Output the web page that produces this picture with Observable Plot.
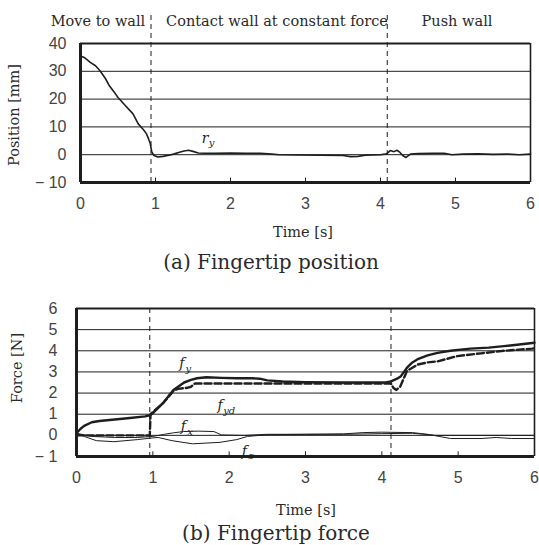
<!DOCTYPE html>
<html><head><meta charset="utf-8">
<script src="https://cdn.jsdelivr.net/npm/d3@7"></script>
<script src="https://cdn.jsdelivr.net/npm/@observablehq/plot@0.6"></script>
<style>
html,body{margin:0;padding:0;background:#fff;}
#wrap{position:relative;width:539px;height:545px;overflow:hidden;background:#fff;}
.t{position:absolute;font-family:"DejaVu Serif",serif;color:#2a2a2a;white-space:nowrap;line-height:1;transform:translate(-50%,-50%);}
.rot{transform:translate(-50%,-50%) rotate(-90deg);}
svg{position:absolute;left:0;}
</style></head><body><div id="wrap"></div>
<script>
// ---- data ----
const timeTicks = [0, 1, 2, 3, 4, 5, 6];
const posTicks = [-10, 0, 10, 20, 30, 40];
const forceTicks = [-1, 0, 1, 2, 3, 4, 5, 6];
const phaseNames = ["Move to wall", "Contact wall at constant force", "Push wall"];
const phaseEndsPos = [0.94, 4.09];
const phaseEndsForce = [0.96, 4.12];

// fingertip position r_y [mm]
const ryT = [0, 0.05, 0.13, 0.2, 0.26, 0.33, 0.38, 0.45, 0.5, 0.6, 0.7, 0.77, 0.84, 0.88, 0.91, 0.93, 0.95, 0.98, 1.03, 1.1, 1.18, 1.25, 1.32, 1.38, 1.44, 1.5, 1.57, 1.65, 1.8, 2.0, 2.2, 2.4, 2.55, 2.65, 2.9, 3.2, 3.5, 3.6, 3.7, 3.8, 4.0, 4.08, 4.13, 4.18, 4.22, 4.26, 4.3, 4.34, 4.4, 4.5, 4.7, 4.85, 4.95, 5.1, 5.3, 5.5, 5.7, 5.85, 6.0];
const ryV = [35.5, 35, 33.2, 32, 30.2, 27.5, 25, 22.5, 20.6, 17.6, 14.7, 11.1, 9, 7.5, 5.5, 4, 1, -0.3, -0.8, -0.6, -0.2, 0.3, 0.9, 1.3, 1.6, 1.2, 0.6, 0.5, 0.5, 0.6, 0.5, 0.5, 0.2, 0, -0.1, -0.2, -0.3, -0.7, -0.6, -0.2, 0, 0.3, 1.5, 1.1, 1.6, 0.8, -0.4, -1, 0.2, 0.4, 0.5, 0.5, 0, 0.2, 0.3, 0.1, 0.2, 0, 0.2];

// fingertip force [N]
const fyT = [0, 0.05, 0.1, 0.2, 0.3, 0.5, 0.7, 0.9, 0.96, 1.0, 1.14, 1.27, 1.41, 1.5, 1.58, 1.7, 1.9, 2.1, 2.3, 2.4, 2.5, 2.7, 3.0, 3.5, 3.8, 4.05, 4.12, 4.2, 4.25, 4.33, 4.4, 4.47, 4.6, 4.73, 4.9, 5.16, 5.4, 5.6, 5.8, 6.0];
const fyV = [0.1, 0.3, 0.45, 0.62, 0.68, 0.75, 0.82, 0.9, 0.95, 1.05, 1.55, 2.15, 2.5, 2.62, 2.7, 2.75, 2.72, 2.7, 2.7, 2.68, 2.6, 2.55, 2.52, 2.5, 2.5, 2.5, 2.55, 2.68, 2.8, 3.2, 3.45, 3.6, 3.78, 3.9, 4.0, 4.1, 4.15, 4.22, 4.3, 4.38];
const fydT = [0, 0.96, 0.97, 1.14, 1.27, 1.33, 1.45, 1.5, 1.55, 1.7, 2.0, 2.5, 3.0, 3.5, 4.0, 4.12, 4.15, 4.19, 4.24, 4.3, 4.33, 4.4, 4.47, 4.6, 4.73, 4.99, 5.3, 5.6, 5.97, 6.0];
const fydV = [0, 0, 1.0, 1.55, 2.1, 2.2, 2.25, 2.3, 2.45, 2.45, 2.45, 2.45, 2.45, 2.45, 2.45, 2.45, 2.25, 2.15, 2.3, 2.8, 3.05, 3.2, 3.35, 3.45, 3.5, 3.75, 3.88, 4.0, 4.1, 4.12];
const fxT = [0, 0.2, 0.5, 0.8, 1.0, 1.15, 1.27, 1.4, 1.6, 1.8, 1.9, 2.2, 2.5, 3.0, 3.5, 3.75, 4.0, 4.4, 4.6, 4.75, 4.9, 5.3, 5.5, 5.7, 6.0];
const fxV = [0.1, -0.05, -0.1, -0.1, -0.05, 0.05, 0.12, 0.18, 0.2, 0.18, 0.02, 0, 0.05, 0.05, 0.07, 0.13, 0.15, 0.13, 0.05, -0.05, -0.15, -0.15, -0.1, -0.15, -0.15];
const fzT = [0, 0.1, 0.26, 0.49, 0.8, 1.0, 1.07, 1.25, 1.52, 1.88, 2.1, 2.24, 2.5, 3.0, 3.5, 4.0, 4.4, 4.7, 5.0, 6.0];
const fzV = [0.1, -0.05, -0.25, -0.3, -0.2, -0.12, -0.1, -0.25, -0.4, -0.33, -0.2, -0.05, 0.03, 0.05, 0.05, 0.08, 0.1, 0, 0, 0];

// ---- helpers ----
const ink = "#1e1e1e";
const tickFont = '"Liberation Sans", Arial, sans-serif';
const serif = '"DejaVu Serif", serif';
const minusFmt = d => d < 0 ? "\u2212 " + Math.abs(d) : String(d);
const zip = (T, V) => T.map((t, i) => ({t, v: V[i]}));

function frame(xd, yd) {
  return [
    Plot.ruleY([yd[1]], {stroke: ink, strokeWidth: 2}),
    Plot.ruleX([xd[1]], {stroke: ink, strokeWidth: 1.6}),
    Plot.ruleY([yd[0]], {stroke: ink, strokeWidth: 3}),
    Plot.ruleX([xd[0]], {stroke: ink, strokeWidth: 3})
  ];
}
function label(t, v, main, sub) {
  const d = [{t, v}];
  return [
    Plot.text(d, {x: "t", y: "v", text: () => main, fontFamily: serif, fontStyle: "italic", fontSize: 14, fill: ink}),
    Plot.text(d, {x: "t", y: "v", text: () => sub, dx: 4 + sub.length * 2.6, dy: 5, fontFamily: serif, fontStyle: "italic", fontSize: 10, fill: ink})
  ];
}

const wrap = document.getElementById("wrap");
function addText(txt, cx, cy, size, rot) {
  const el = document.createElement("div");
  el.className = "t" + (rot ? " rot" : "");
  el.textContent = txt;
  el.style.left = cx + "px";
  el.style.top = cy + "px";
  el.style.fontSize = size + "px";
  wrap.appendChild(el);
}

// ---- top panel ----
const posDom = [posTicks[0], posTicks[posTicks.length - 1]];
const tDom = [timeTicks[0], timeTicks[timeTicks.length - 1]];
const headerReach = posDom[1] + 11;
const topPlot = Plot.plot({
  width: 539, height: 275, marginLeft: 80, marginRight: 9, marginTop: 43, marginBottom: 93,
  x: {domain: tDom}, y: {domain: posDom},
  style: {fontFamily: tickFont, fontSize: "16px", color: "#444", background: "white", overflow: "visible"},
  marks: [
    Plot.ruleY(posTicks.slice(1, -1), {stroke: ink, strokeWidth: 1}),
    Plot.ruleX(phaseEndsPos, {y1: posDom[0], y2: headerReach, stroke: ink, strokeWidth: 1, strokeDasharray: "5,4"}),
    Plot.ruleX(timeTicks.slice(1, -1), {y1: posDom[0], y2: posDom[0] + 1.6, stroke: ink, strokeWidth: 1}),
    Plot.line(zip(ryT, ryV), {x: "t", y: "v", stroke: ink, strokeWidth: 1.6}),
    ...frame(tDom, posDom),
    Plot.axisX({ticks: timeTicks, tickSize: 0, tickPadding: 15, label: null, tickFormat: d => String(d)}),
    Plot.axisY({ticks: posTicks, tickSize: 0, tickPadding: 14, label: null, tickFormat: minusFmt}),
    ...label(1.66, 6, "r", "y")
  ]
});
topPlot.style.top = "0px";
wrap.appendChild(topPlot);

// ---- bottom panel ----
const fDom = [forceTicks[0], forceTicks[forceTicks.length - 1]];
const botPlot = Plot.plot({
  width: 539, height: 270, marginLeft: 76, marginRight: 5, marginTop: 33, marginBottom: 89,
  x: {domain: tDom}, y: {domain: fDom},
  style: {fontFamily: tickFont, fontSize: "16px", color: "#444", background: "white", overflow: "visible"},
  marks: [
    Plot.ruleY(forceTicks.slice(1, -1), {stroke: ink, strokeWidth: 1}),
    Plot.ruleX(phaseEndsForce, {stroke: ink, strokeWidth: 1, strokeDasharray: "5,4"}),
    Plot.ruleX(timeTicks.slice(1, -1), {y1: fDom[0], y2: fDom[0] + 0.22, stroke: ink, strokeWidth: 1}),
    Plot.line(zip(fxT, fxV), {x: "t", y: "v", stroke: ink, strokeWidth: 1}),
    Plot.line(zip(fzT, fzV), {x: "t", y: "v", stroke: ink, strokeWidth: 1}),
    Plot.line(zip(fydT, fydV), {x: "t", y: "v", stroke: ink, strokeWidth: 2.4, strokeDasharray: "7,3"}),
    Plot.line(zip(fyT, fyV), {x: "t", y: "v", stroke: ink, strokeWidth: 2.4}),
    ...frame(tDom, fDom),
    Plot.axisX({ticks: timeTicks, tickSize: 0, tickPadding: 15, label: null, tickFormat: d => String(d)}),
    Plot.axisY({ticks: forceTicks, tickSize: 0, tickPadding: 19, label: null, tickFormat: minusFmt}),
    ...label(1.38, 3.4, "f", "y"),
    ...label(1.88, 1.4, "f", "yd"),
    ...label(1.4, 0.42, "f", "x"),
    ...label(2.2, -0.75, "f", "z")
  ]
});
botPlot.style.top = "275px";
wrap.appendChild(botPlot);

// ---- texts ----
addText(phaseNames[0], 98, 21, 14.5);
addText(phaseNames[1], 277, 21, 14.5);
addText(phaseNames[2], 457, 21, 14.5);
addText("Position [mm]", 14, 115, 14.5, true);
addText("Time [s]", 303, 232, 14.5);
addText("(a) Fingertip position", 271, 262, 20);
addText("Force [N]", 17, 368, 14.5, true);
addText("Time [s]", 306, 510, 14.5);
addText("(b) Fingertip force", 276, 533, 20);
</script></body></html>
